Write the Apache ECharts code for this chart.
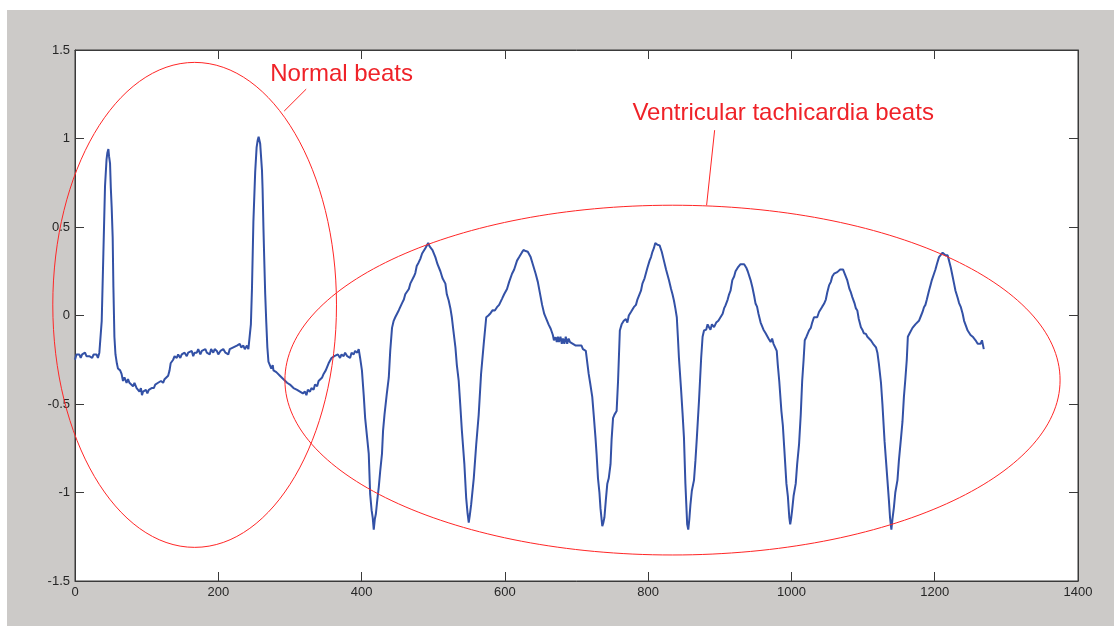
<!DOCTYPE html>
<html>
<head>
<meta charset="utf-8">
<script src="https://cdn.jsdelivr.net/npm/echarts@6/dist/echarts.min.js"></script>
<style>
  html, body { margin: 0; padding: 0; background: #ffffff; width: 1114px; height: 626px; overflow: hidden; }
  #chart { position: absolute; left: 7px; top: 10px; width: 1107px; height: 616px; background: #cccac8; }
</style>
</head>
<body>
<div id="chart"></div>
<script>
// ---- data ----
const xTicks = { min: 0, max: 1400, interval: 200 };
const yTicks = { min: -1.5, max: 1.5, interval: 0.5 };

// ECG samples: [sample index, amplitude]
const ecg = [
[0,-0.25],[2,-0.22],[4,-0.23],[6,-0.22],[8,-0.24],[10,-0.22],[12,-0.23],[14,-0.21],[16,-0.23],[18,-0.22],[20,-0.23],[22,-0.22],[24,-0.24],[26,-0.22],[28,-0.23],[30,-0.22],[32,-0.24],[34,-0.21],[35.5,-0.22],
[37.3,-0.03],[39.6,0.35],[41.9,0.73],[44,0.88],[45.2,0.92],[46.6,0.94],[47.5,0.9],[48.9,0.86],[50,0.72],[51.2,0.61],[52.6,0.44],[53.6,0.16],[55,-0.12],[56.5,-0.22],[58.4,-0.27],[60,-0.3],[61.5,-0.29],[63,-0.31],[65,-0.33],[67,-0.37],[69,-0.35],[72,-0.38],[74,-0.36],[76,-0.38],[78,-0.39],[81,-0.40],[83,-0.38],[86,-0.41],[88,-0.42],[90,-0.43],[92,-0.41],[93.5,-0.45],[95,-0.43],[97,-0.44],[99,-0.42],[101,-0.44],[103,-0.42],[105,-0.43],[107,-0.41],[110,-0.41],[112,-0.39],[114,-0.40],[116,-0.38],[118,-0.39],[120,-0.37],[123,-0.38],[125,-0.36],[127,-0.36],[130,-0.34],[132,-0.31],[133.5,-0.27],[135,-0.26],[137,-0.25],[139,-0.23],[142,-0.24],[144,-0.22],[147,-0.24],[149,-0.22],[151,-0.23],[153,-0.21],[156,-0.23],[158,-0.21],[160,-0.22],[163,-0.20],[165,-0.23],[167,-0.21],[170,-0.21],[172,-0.19],[175,-0.22],[177,-0.20],[179,-0.21],[182,-0.19],[184,-0.21],[186,-0.20],[188,-0.22],[190,-0.19],[193,-0.21],[195,-0.19],[198,-0.20],[200,-0.22],[203,-0.20],[205,-0.21],[207,-0.19],[210,-0.21],[212,-0.20],[214,-0.22],[216,-0.19],[218,-0.20],[221,-0.18],[223,-0.19],[226,-0.17],[228,-0.18],[230,-0.16],[232,-0.18],[235,-0.17],[237,-0.19],[240,-0.17],[242,-0.19],[244,-0.19],
[245.5,-0.05],[247,0.15],[249,0.53],[251.5,0.81],[253.5,0.95],[255,0.99],[256.3,1.01],[257.5,1.0],[258.5,0.97],[259.5,0.96],[261,0.82],[261.8,0.72],[263,0.5],[264,0.34],[265.5,0.12],[267,-0.04],[268.5,-0.18],[270,-0.26],[272,-0.28],[274,-0.30],[276,-0.28],[277,-0.31],[279,-0.30],[281,-0.32],[283,-0.33],[286,-0.34],[288,-0.33],[291,-0.36],[293,-0.35],[296,-0.38],[298,-0.37],[300,-0.39],[302,-0.38],[305,-0.41],[307,-0.40],[310,-0.42],[312,-0.41],[314,-0.43],[316,-0.42],[318,-0.44],[321,-0.43],[323,-0.45],[325,-0.42],[328,-0.43],[330,-0.41],[333,-0.42],[335,-0.39],[338,-0.40],[340,-0.37],[342,-0.38],[345,-0.35],[347,-0.33],[350,-0.31],[352,-0.29],[354,-0.27],[356,-0.26],[358,-0.24],[360,-0.25],[362,-0.23],[364,-0.24],[367,-0.22],[370,-0.24],[372,-0.22],[375,-0.23],[377,-0.21],[380,-0.23],[382,-0.22],[384,-0.24],[386,-0.21],[389,-0.22],[391,-0.20],[394,-0.21],[396,-0.19],
[398,-0.24],[400.5,-0.31],[403,-0.45],[405,-0.58],[408,-0.70],[410,-0.78],[412,-1.01],[414,-1.10],[415.5,-1.14],[417,-1.21],[418.5,-1.15],[420,-1.12],[422,-1.04],[424,-0.97],[426,-0.88],[428.5,-0.78],[430,-0.65],[432,-0.56],[435,-0.45],[438,-0.35],[440,-0.20],[442.5,-0.07],[444.8,-0.03],[447,-0.01],[449.5,0.01],[452,0.03],[454,0.04],[456.5,0.07],[459,0.09],[461,0.12],[463,0.11],[466,0.15],[468,0.18],[470,0.19],[473,0.22],[475,0.24],[477,0.28],[479.7,0.30],[482,0.32],[484.5,0.35],[486.6,0.36],[489,0.38],[491.3,0.39],[493,0.41],[495,0.39],[497,0.39],[499,0.37],[501,0.35],[503,0.33],[506,0.29],[510,0.25],[513,0.21],[517,0.18],[519,0.12],[521.6,0.085],[524,0.04],[526,-0.01],[528,-0.08],[531,-0.18],[533,-0.28],[535.6,-0.37],[538,-0.52],[540,-0.65],[543.5,-0.84],[546,-1.03],[548,-1.12],[549.6,-1.17],[551,-1.13],[552.9,-1.07],[556.6,-0.92],[560,-0.73],[563.5,-0.56],[566.8,-0.33],[570.5,-0.16],[574,-0.01],[577,0.0],[580,0.013],[583,0.03],[586,0.028],[589,0.047],[592,0.06],[596,0.094],[599,0.12],[603,0.15],[606,0.19],[610,0.236],[613,0.26],[617,0.31],[620,0.33],[624,0.358],[626,0.37],[629,0.364],[632,0.36],[636,0.33],[639,0.29],[643,0.236],[646,0.19],[650,0.104],[652,0.06],[655,0.009],[658,-0.02],[661,-0.05],[664,-0.075],[667,-0.11],[668.5,-0.14],[670.7,-0.123],[672.5,-0.15],[674,-0.12],[675.5,-0.15],[677.6,-0.12],[679.5,-0.16],[681,-0.13],[683,-0.16],[685,-0.12],[687,-0.16],[689,-0.13],[691,-0.15],[693,-0.14],[695,-0.16],[697,-0.15],[699,-0.17],[701,-0.16],[703,-0.17],[705,-0.18],[707,-0.17],[709,-0.19],[711,-0.18],[713,-0.20],[715,-0.19],
[717,-0.33],[719,-0.38],[722,-0.46],[724,-0.56],[726.5,-0.69],[728,-0.78],[730,-0.92],[732,-1.0],[733.5,-1.09],[736,-1.19],[737.5,-1.17],[739,-1.14],[741,-1.04],[743,-0.95],[745,-0.92],[747.5,-0.84],[749,-0.70],[751,-0.58],[753,-0.56],[756,-0.54],[758,-0.37],[760.5,-0.085],[763,-0.05],[766,-0.03],[769,-0.02],[771,-0.04],[773,0.0],[776,0.02],[778,0.01],[780,0.047],[783,0.06],[785,0.09],[787,0.10],[790,0.14],[792,0.18],[795,0.21],[797,0.24],[799,0.27],[802,0.31],[804,0.33],[806,0.36],[808,0.38],[810,0.41],[811.5,0.415],[813,0.40],[816,0.396],[819,0.36],[822,0.31],[825,0.26],[827,0.23],[829,0.20],[832,0.15],[834,0.12],[836,0.085],[838,0.04],[840,-0.01],[841.5,-0.12],[843,-0.24],[846,-0.42],[848,-0.55],[850,-0.69],[852,-0.95],[854.5,-1.18],[856,-1.21],[857.5,-1.15],[859,-1.07],[861,-0.99],[864,-0.93],[866,-0.82],[868,-0.69],[871,-0.48],[874,-0.24],[876,-0.12],[878,-0.085],[881,-0.08],[883,-0.05],[885,-0.066],[887,-0.08],[889,-0.05],[892,-0.066],[895,-0.04],[898,-0.03],[901,-0.01],[904,0.01],[906,0.04],[908,0.057],[911,0.09],[913,0.12],[915,0.14],[917.5,0.2],[920,0.22],[922,0.25],[925,0.27],[927,0.26],[929,0.29],[931,0.30],[934,0.29],[937,0.27],[939,0.25],[941,0.24],[943,0.20],[945.5,0.16],[948,0.11],[950,0.066],[952,0.05],[954,0.01],[957,-0.04],[959,-0.03],[961,-0.08],[964,-0.10],[966,-0.09],[968,-0.13],[971,-0.15],[973,-0.13],[975,-0.16],[977,-0.15],[979.5,-0.2],[981,-0.28],[983,-0.37],[986,-0.54],[988,-0.62],[990,-0.75],[993,-0.95],[995,-1.02],[997,-1.14],[998.3,-1.18],[999.5,-1.15],[1001,-1.10],[1003,-1.02],[1006,-0.95],[1008,-0.84],[1010.6,-0.73],[1013,-0.56],[1015,-0.37],[1017,-0.25],[1018.6,-0.14],[1021,-0.12],[1024.5,-0.085],[1027,-0.07],[1029,-0.04],[1031.5,-0.01],[1034,0.0],[1036,-0.01],[1038.5,0.02],[1041,0.03],[1043,0.05],[1045.5,0.066],[1048,0.09],[1050,0.13],[1052.5,0.17],[1055,0.19],[1057,0.22],[1059.5,0.236],[1062,0.23],[1064,0.245],[1066,0.25],[1068,0.26],[1070,0.27],[1072,0.26],[1075,0.23],[1078,0.198],[1081,0.15],[1083,0.13],[1085,0.104],[1088,0.07],[1090,0.04],[1092,0.028],[1094,-0.02],[1097,-0.066],[1099,-0.08],[1101,-0.10],[1104,-0.104],[1106,-0.12],[1108,-0.13],[1111,-0.141],[1114,-0.16],[1116,-0.17],[1118,-0.18],[1120,-0.21],[1122,-0.27],[1125,-0.38],[1127,-0.5],[1130,-0.71],[1132,-0.82],[1134,-0.93],[1136,-1.04],[1137.6,-1.14],[1139.5,-1.21],[1141,-1.15],[1143,-1.085],[1145,-1.0],[1148,-0.93],[1150,-0.82],[1153,-0.69],[1155,-0.6],[1157,-0.46],[1159,-0.36],[1161,-0.25],[1162.5,-0.12],[1165,-0.10],[1167,-0.09],[1169,-0.07],[1171,-0.075],[1173,-0.05],[1175,-0.04],[1178,-0.03],[1181,0.0],[1183,0.02],[1185,0.047],[1187,0.06],[1189,0.09],[1192,0.14],[1194,0.17],[1196,0.2],[1199,0.236],[1201,0.26],[1203,0.29],[1206,0.33],[1208,0.34],[1211,0.355],[1213,0.35],[1215,0.34],[1218,0.34],[1220,0.31],[1222.5,0.27],[1225,0.22],[1227,0.18],[1229,0.14],[1232,0.10],[1234,0.07],[1236.5,0.047],[1239,0.01],[1241,-0.03],[1243,-0.04],[1246,-0.085],[1248,-0.09],[1250,-0.11],[1253,-0.12],[1255,-0.12],[1257,-0.14],[1260,-0.16],[1262,-0.15],[1264,-0.16],[1266,-0.14],[1267.5,-0.13],[1268.5,-0.19]
];

// annotation ellipses: [centerX, centerY, radiusX, radiusY] in data units
const ellipses = [
  [167, 0.06, 198, 1.37],
  [834, -0.365, 541, 0.988]
];
// leader lines: [x1, y1, x2, y2] in data units
const leaders = [
  [292, 1.155, 322.7, 1.279],
  [881.6, 0.623, 892.8, 1.047]
];
// annotation labels: anchor [x, y] (left, middle) in data units
const labelTexts = ['Normal beats', 'Ventricular tachicardia beats'];
const labelAnchors = [
  [272.5, 1.364],
  [778, 1.143]
];

// ---- chart ----
const chart = echarts.init(document.getElementById('chart'), null, { renderer: 'canvas' });
const axisColor = '#3a3a3a';
const labelStyle = { color: '#262626', fontSize: 13, fontFamily: '"Liberation Sans", Arial, sans-serif' };
const RED = '#ff2626';
const plainNum = function (v) { return String(Math.round(v * 1000) / 1000); };

function xAx(pos, showLabel) {
  return {
    type: 'value', position: pos, min: xTicks.min, max: xTicks.max, interval: xTicks.interval,
    axisLine: { show: true, onZero: false, lineStyle: { color: axisColor, width: 1 } },
    axisTick: { show: true, inside: true, length: 9, lineStyle: { color: axisColor } },
    axisLabel: Object.assign({ show: showLabel, margin: 5, formatter: plainNum }, labelStyle),
    splitLine: { show: false }
  };
}
function yAx(pos, showLabel) {
  return {
    type: 'value', position: pos, min: yTicks.min, max: yTicks.max, interval: yTicks.interval,
    axisLine: { show: true, onZero: false, lineStyle: { color: axisColor, width: 1 } },
    axisTick: { show: true, inside: true, length: 9, lineStyle: { color: axisColor } },
    axisLabel: Object.assign({ show: showLabel, margin: 5, formatter: plainNum }, labelStyle),
    splitLine: { show: false }
  };
}

chart.setOption({
  animation: false,
  backgroundColor: 'transparent',
  grid: { left: 68, top: 40, right: 36, bottom: 45, show: true, backgroundColor: '#ffffff', borderColor: axisColor, borderWidth: 1 },
  xAxis: [xAx('bottom', true), xAx('top', false)],
  yAxis: [yAx('left', true), yAx('right', false)],
  series: [
    {
      type: 'line', xAxisIndex: 0, yAxisIndex: 0,
      data: ecg, showSymbol: false, symbol: 'none', smooth: false,
      lineStyle: { color: '#3351a6', width: 2 }, z: 3
    },
    {
      type: 'custom', xAxisIndex: 0, yAxisIndex: 0, clip: false, silent: true, z: 4,
      data: ellipses, encode: { x: 0, y: 1 },
      renderItem: function (params, api) {
        const c = api.coord([api.value(0), api.value(1)]);
        const s = api.size([api.value(2), api.value(3)]);
        return { type: 'ellipse', shape: { cx: c[0], cy: c[1], rx: s[0], ry: s[1] },
          style: { fill: 'none', stroke: RED, lineWidth: 1 } };
      }
    },
    {
      type: 'custom', xAxisIndex: 0, yAxisIndex: 0, clip: false, silent: true, z: 4,
      data: leaders, encode: { x: [0, 2], y: [1, 3] },
      renderItem: function (params, api) {
        const a = api.coord([api.value(0), api.value(1)]);
        const b = api.coord([api.value(2), api.value(3)]);
        return { type: 'line', shape: { x1: a[0], y1: a[1], x2: b[0], y2: b[1] },
          style: { stroke: RED, lineWidth: 1 } };
      }
    },
    {
      type: 'custom', xAxisIndex: 0, yAxisIndex: 0, clip: false, silent: true, z: 5,
      data: labelAnchors, encode: { x: 0, y: 1 },
      renderItem: function (params, api) {
        const p = api.coord([api.value(0), api.value(1)]);
        return { type: 'text', x: p[0], y: p[1],
          style: { text: labelTexts[params.dataIndex], fill: '#ef2228',
            font: '24px "Liberation Sans", Arial, sans-serif', align: 'left', verticalAlign: 'middle' } };
      }
    }
  ]
});
</script>
</body>
</html>
